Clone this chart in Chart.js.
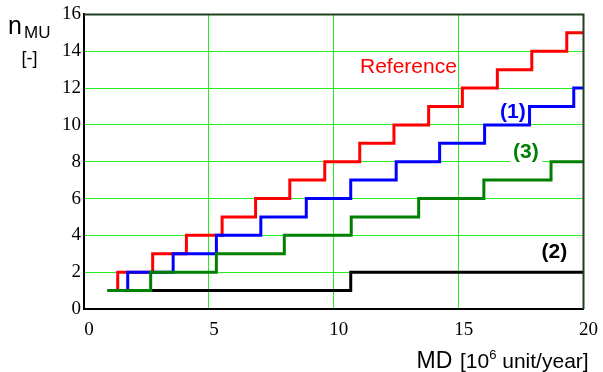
<!DOCTYPE html>
<html>
<head>
<meta charset="utf-8">
<script src="https://cdn.jsdelivr.net/npm/chart.js@4.4.1/dist/chart.umd.min.js"></script>
<style>
  html, body { margin: 0; padding: 0; background: #fff; }
  #wrap { width: 603px; height: 372px; position: relative; }
</style>
</head>
<body>
<div id="wrap"><canvas id="c"></canvas></div>
<script>
// Step curves: x = MD where n_MU steps up, y = n_MU after the step
const refX = [0.95, 1.35, 2.75, 4.1, 5.53, 6.87, 8.24, 9.64, 11.04, 12.41, 13.8, 15.15, 16.55, 17.93, 19.33, 20];
const refY = [1, 2, 3, 4, 5, 6, 7, 8, 9, 10, 11, 12, 13, 14, 15, 15];
const s1X = [0.95, 1.75, 3.57, 5.3, 7.08, 8.9, 10.68, 12.5, 14.24, 16.04, 17.84, 19.61, 20];
const s1Y = [1, 2, 3, 4, 5, 6, 7, 8, 9, 10, 11, 12, 12];
const s3X = [0.95, 2.67, 5.3, 8.02, 10.7, 13.4, 16.01, 18.7, 20];
const s3Y = [1, 2, 3, 4, 5, 6, 7, 8, 8];
const s2X = [0.95, 10.68, 20];
const s2Y = [1, 2, 2];
const xTicks = [0, 5, 10, 15, 20];
const yTicks = [0, 2, 4, 6, 8, 10, 12, 14, 16];
const seriesLabels = ['(3)', '(1)', 'Reference', '(2)'];

const pts = (xs, ys) => xs.map((x, i) => ({ x: x, y: ys[i] }));

const annot = {
  id: 'annot',
  afterDraw(chart) {
    const ctx = chart.ctx;
    const a = chart.chartArea;
    ctx.save();
    // top and right frame
    ctx.strokeStyle = '#1f3f1f';
    ctx.lineWidth = 2;
    ctx.beginPath();
    ctx.moveTo(a.left, a.top);
    ctx.lineTo(a.right, a.top);
    ctx.lineTo(a.right, a.bottom);
    ctx.stroke();

    ctx.textBaseline = 'alphabetic';
    ctx.textAlign = 'left';
    // series labels
    ctx.fillStyle = '#ff0000';
    ctx.font = '21px "Liberation Sans", Arial, sans-serif';
    ctx.fillText(seriesLabels[2], 360, 73);

    ctx.font = 'bold 21px "Liberation Sans", Arial, sans-serif';
    ctx.fillStyle = '#0000ff';
    ctx.fillText(seriesLabels[1], 500, 117.5);

    // (3) with white background
    let w = ctx.measureText(seriesLabels[0]).width;
    ctx.fillStyle = '#ffffff';
    ctx.fillRect(510, 142, w + 7, 22);
    ctx.fillStyle = '#008000';
    ctx.fillText(seriesLabels[0], 513, 157.5);

    ctx.fillStyle = '#000000';
    ctx.fillText(seriesLabels[3], 541.5, 257.5);

    // y title
    ctx.fillStyle = '#000';
    ctx.font = '25px "Liberation Sans", Arial, sans-serif';
    ctx.fillText('n', 8, 33.5);
    ctx.font = '17px "Liberation Sans", Arial, sans-serif';
    ctx.fillText('MU', 24, 37.5);
    ctx.font = '18px "Liberation Sans", Arial, sans-serif';
    ctx.fillText('[-]', 21.5, 64);

    // x title
    ctx.font = '23px "Liberation Sans", Arial, sans-serif';
    ctx.fillText('MD', 416.5, 367.5);
    ctx.font = '21px "Liberation Sans", Arial, sans-serif';
    ctx.fillText('[10', 460, 367.5);
    let x0 = 460 + ctx.measureText('[10').width;
    ctx.font = '13px "Liberation Sans", Arial, sans-serif';
    ctx.fillText('6', x0, 359);
    x0 += ctx.measureText('6').width;
    ctx.font = '21px "Liberation Sans", Arial, sans-serif';
    ctx.fillText(' unit/year]', x0, 367.5);
    ctx.restore();
  }
};

const ds = (label, xs, ys, color) => ({
  label: label,
  data: pts(xs, ys),
  borderColor: color,
  backgroundColor: color,
  borderWidth: 3,
  pointRadius: 0,
  stepped: 'before',
  fill: false
});

new Chart(document.getElementById('c'), {
  type: 'line',
  data: {
    datasets: [
      ds(seriesLabels[0], s3X, s3Y, '#008000'),
      ds(seriesLabels[1], s1X, s1Y, '#0000ff'),
      ds(seriesLabels[2], refX, refY, '#ff0000'),
      ds(seriesLabels[3], s2X, s2Y, '#000000')
    ]
  },
  options: {
    responsive: true,
    maintainAspectRatio: false,
    animation: false,
    layout: { padding: { top: 14, right: 18, left: 0, bottom: 0 } },
    plugins: { legend: { display: false }, tooltip: { enabled: false } },
    scales: {
      x: {
        type: 'linear',
        min: 0, max: 20,
        afterFit(s) { s.height = 63; },
        afterBuildTicks(s) { s.ticks = xTicks.map(v => ({ value: v })); },
        grid: { color: '#22ee22', lineWidth: 1, drawTicks: false },
        border: { color: '#000', width: 2 },
        ticks: {
          color: '#000',
          padding: 10,
          labelOffset: 5,
          font: { family: '"Liberation Serif", "Times New Roman", serif', size: 19 }
        }
      },
      y: {
        min: 0, max: 16,
        afterFit(s) { s.width = 84; },
        afterBuildTicks(s) { s.ticks = yTicks.map(v => ({ value: v })); },
        grid: { color: '#22ee22', lineWidth: 1, drawTicks: false },
        border: { color: '#000', width: 2 },
        ticks: {
          color: '#000',
          padding: 3,
          font: { family: '"Liberation Serif", "Times New Roman", serif', size: 19 }
        }
      }
    }
  },
  plugins: [annot]
});
</script>
</body>
</html>
